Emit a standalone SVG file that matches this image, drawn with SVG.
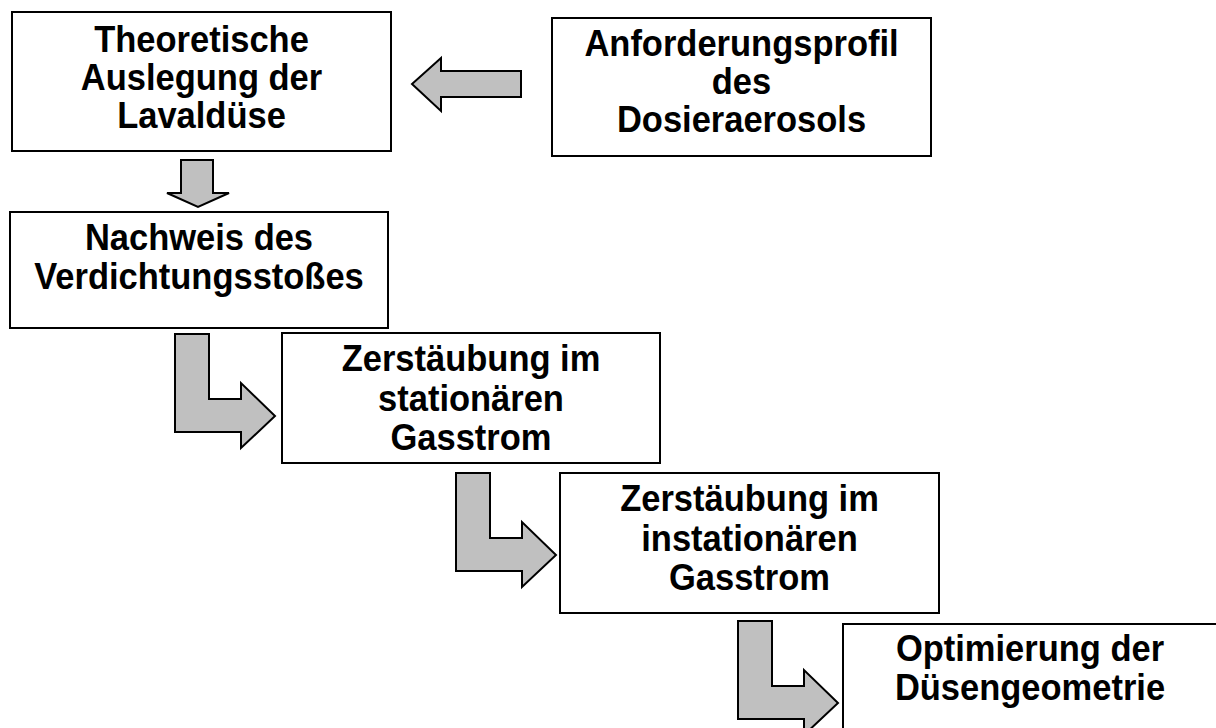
<svg xmlns="http://www.w3.org/2000/svg" width="1216" height="728" viewBox="0 0 1216 728">
<style>
.box{fill:#fff;stroke:#000;stroke-width:2}
.arr{fill:#c0c0c0;stroke:#000;stroke-width:2;stroke-linejoin:miter}
text{font-family:"Liberation Sans",Arial,sans-serif;font-weight:bold;font-size:34.5px;fill:#000;text-anchor:middle}
</style>
<defs>
<polygon id="larrow" points="0,0 34,0 34,65 66,65 66,49 100,82 66,114 66,98 0,98"/>
</defs>
<rect width="1216" height="728" fill="#fff"/>
<g id="connectors">
<polygon class="arr" points="521,71 441,71 441,58 412,84 441,111 441,97 521,97"/>
<polygon class="arr" points="181,160 213,160 213,193 229,193 198,207 167,193 181,193"/>
<use href="#larrow" class="arr" x="175" y="334"/>
<use href="#larrow" class="arr" x="456" y="473"/>
<use href="#larrow" class="arr" x="738" y="621"/>
</g>
<g id="n1">
<rect class="box" x="12" y="12" width="379" height="139"/>
<text transform="translate(201.5,52) scale(1,1.08)">Theoretische</text>
<text transform="translate(201.5,90) scale(1,1.08)">Auslegung der</text>
<text transform="translate(201.5,128) scale(1,1.08)">Lavaldüse</text>
</g>
<g id="n2">
<rect class="box" x="552" y="18" width="379" height="138"/>
<text transform="translate(741.5,56) scale(1,1.08)">Anforderungsprofil</text>
<text transform="translate(741.5,94) scale(1,1.08)">des</text>
<text transform="translate(741.5,132) scale(1,1.08)">Dosieraerosols</text>
</g>
<g id="n3">
<rect class="box" x="10" y="212" width="378" height="116"/>
<text transform="translate(199,250) scale(1,1.08)">Nachweis des</text>
<text transform="translate(199,289) scale(1,1.08)">Verdichtungsstoßes</text>
</g>
<g id="n4">
<rect class="box" x="282" y="333" width="378" height="130"/>
<text transform="translate(471,371) scale(1,1.08)">Zerstäubung im</text>
<text transform="translate(471,411) scale(1,1.08)">stationären</text>
<text transform="translate(471,450) scale(1,1.08)">Gasstrom</text>
</g>
<g id="n5">
<rect class="box" x="560" y="473" width="379" height="140"/>
<text transform="translate(749.5,511) scale(1,1.08)">Zerstäubung im</text>
<text transform="translate(749.5,551) scale(1,1.08)">instationären</text>
<text transform="translate(749.5,590) scale(1,1.08)">Gasstrom</text>
</g>
<g id="n6">
<rect class="box" x="843" y="624" width="376" height="140"/>
<text transform="translate(1030,661) scale(1,1.08)">Optimierung der</text>
<text transform="translate(1030,700) scale(1,1.08)">Düsengeometrie</text>
</g>
</svg>
